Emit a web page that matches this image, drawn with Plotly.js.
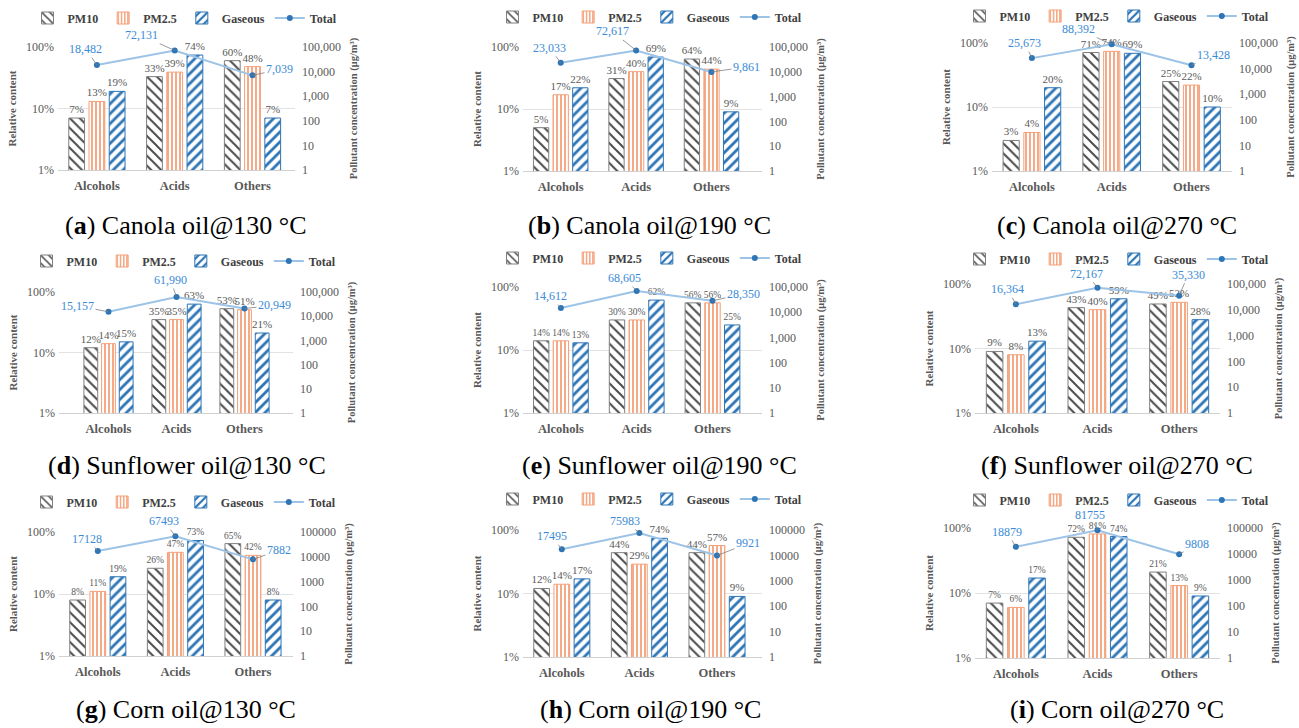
<!DOCTYPE html>
<html><head><meta charset="utf-8">
<script src="https://cdn.plot.ly/plotly-3.0.1.min.js"></script>
<style>html,body{margin:0;padding:0;background:#fff}#chart{width:1299px;height:728px}</style>
</head><body><div id="chart"></div>
<script>
// ---------------- DATA ----------------
const categories = ['Alcohols', 'Acids', 'Others'];
const panelLetters = ['a', 'b', 'c', 'd', 'e', 'f', 'g', 'h', 'i'];
const panelTitles = ['Canola oil@130 °C', 'Canola oil@190 °C', 'Canola oil@270 °C',
  'Sunflower oil@130 °C', 'Sunflower oil@190 °C', 'Sunflower oil@270 °C',
  'Corn oil@130 °C', 'Corn oil@190 °C', 'Corn oil@270 °C'];
// relative content (%) per panel, per category
const pm10 = [[7, 33, 60], [5, 31, 64], [3, 71, 25], [12, 35, 53], [14, 30, 56], [9, 43, 49], [8, 26, 65], [12, 44, 44], [7, 72, 21]];
const pm25 = [[13, 39, 48], [17, 40, 44], [4, 74, 22], [14, 35, 51], [14, 30, 56], [8, 40, 52], [11, 47, 42], [14, 29, 57], [6, 81, 13]];
const gaseous = [[19, 74, 7], [22, 69, 9], [20, 69, 10], [15, 63, 21], [13, 62, 25], [13, 59, 28], [19, 73, 8], [17, 74, 9], [17, 74, 9]];
// total pollutant concentration (µg/m³)
const totals = [[18482, 72131, 7039], [23033, 72617, 9861], [25673, 88392, 13428],
  [15157, 61990, 20949], [14612, 68605, 28350], [16364, 72167, 35330],
  [17128, 67493, 7882], [17495, 75983, 9921], [18879, 81755, 9808]];
const useThousandsSep = [true, true, true, true, true, true, false, false, false];
const leftTickValues = [1, 10, 100];
const leftTickLabels = ['1%', '10%', '100%'];
const leftTitle = 'Relative content';
const rightTitle = 'Pollutant concentration (μg/m³)';

// ---------------- LAYOUT CONFIG ----------------
const W = 1299, H = 728;
const px = x => x / W, py = y => 1 - y / H;
const panelBoxes = [ // left, top, right, bottom (px)
  [58, 47, 295, 170], [523, 47, 762, 171], [992, 43, 1232, 171],
  [59, 292, 293, 413], [523, 287, 762, 413], [975, 284, 1220, 413],
  [59, 532, 293, 656], [523, 530, 762, 657], [975, 528, 1220, 658]];
const legendPos = [[185, 18], [650, 17], [1117, 16], [184, 261], [650, 258], [1117, 259], [184, 502], [650, 499], [1117, 500]];
const captionPos = [[186, 225], [649, 225], [1117, 225], [187, 466], [659, 466], [1117, 466], [186, 709], [650, 709], [1117, 709]];
const labelOffsets = [
  [[-11, -16], [-33, -15], [27, -6]],
  [[-11, -15], [-24, -19], [35, -5]],
  [[-7, -15], [-33, -15], [22, -10]],
  [[-31, -6], [-6, -17], [30, -3]],
  [[-10, -12], [-12, -13], [31, -7]],
  [[-8, -15], [-11, -14], [9, -21]],
  [[-11, -12], [-11, -15], [26, -9]],
  [[-10, -13], [-14, -12], [31, -12]],
  [[-9, -15], [-8, -15], [18, -10]]];
const barLabelSize = [11, 11, 11, 11, 9.5, 11, 9.5, 11, 9.5];

const FONT = '"Liberation Serif", "Times New Roman", serif';
const GRAY = '#595959';
const barSpecs = [
  { name: 'PM10', data: pm10, fg: '#4a4a4a', line: '#808080', shape: '\\', size: 7, sol: 0.28 },
  { name: 'PM2.5', data: pm25, fg: '#F4A07A', line: '#F4A07A', shape: '|', size: 4, sol: 0.45 },
  { name: 'Gaseous', data: gaseous, fg: '#2E75B6', line: '#2E75B6', shape: '/', size: 7, sol: 0.4 }];

const traces = [];
const layout = {
  width: W, height: H, margin: { l: 0, r: 0, t: 0, b: 0 },
  paper_bgcolor: '#fff', plot_bgcolor: 'rgba(0,0,0,0)',
  barmode: 'group', bargap: 0.22, bargroupgap: 0.22,
  font: { family: FONT, color: GRAY }, annotations: [], hovermode: false
};

for (let k = 0; k < 9; k++) {
  const n = k + 1, s = n === 1 ? '' : String(n);
  const xa = 'x' + s, ya = 'y' + s, ya2 = 'y' + (n + 9), leg = 'legend' + s;
  const [l, t, r, b] = panelBoxes[k];

  barSpecs.forEach(spec => {
    traces.push({
      type: 'bar', x: categories, y: spec.data[k], name: spec.name,
      xaxis: xa, yaxis: ya, legend: leg, showlegend: true,
      marker: {
        color: '#ffffff', line: { color: spec.line, width: 1 },
        pattern: { shape: spec.shape, fgcolor: spec.fg, bgcolor: '#ffffff', size: spec.size, solidity: spec.sol, fillmode: 'replace' }
      },
      text: spec.data[k].map(v => v + '%'), textposition: 'outside', constraintext: 'none', cliponaxis: false,
      textfont: { family: FONT, size: barLabelSize[k], color: GRAY }
    });
  });
  traces.push({
    type: 'scatter', mode: 'lines+markers', x: categories, y: totals[k], name: 'Total',
    xaxis: xa, yaxis: ya2, legend: leg, showlegend: true, cliponaxis: false,
    line: { color: '#9DC3E6', width: 2 }, marker: { color: '#2E75B6', size: 6 }
  });

  layout['xaxis' + s] = {
    domain: [px(l), px(r)], anchor: ya, type: 'category', showgrid: false,
    showline: true, linecolor: '#d0d0d0', ticks: '', ticklabelstandoff: 4, fixedrange: true,
    tickfont: { family: FONT, size: 12.5, color: GRAY, weight: 'bold' }
  };
  layout['yaxis' + s] = {
    domain: [py(b), py(t)], anchor: xa, type: 'log', range: [0, 2],
    tickvals: leftTickValues, ticktext: leftTickLabels, showgrid: true, gridcolor: '#e2e2e2',
    zeroline: false, ticks: '', ticklabelstandoff: 3, fixedrange: true,
    tickfont: { family: FONT, size: 12, color: GRAY },
    title: { text: leftTitle, standoff: 7, font: { family: FONT, size: 11, color: GRAY, weight: 'bold' } }
  };
  layout['yaxis' + (n + 9)] = {
    overlaying: ya, anchor: xa, side: 'right', type: 'log', range: [0, 5], dtick: 1,
    tickformat: useThousandsSep[k] ? ',' : 'd', showgrid: false, zeroline: false, ticks: '',
    ticklabelstandoff: 6, fixedrange: true,
    tickfont: { family: FONT, size: 12, color: GRAY },
    title: { text: rightTitle, standoff: 9, font: { family: FONT, size: 10.5, color: GRAY, weight: 'bold' } }
  };
  layout[leg] = {
    orientation: 'h', x: px(legendPos[k][0]), y: py(legendPos[k][1]), xanchor: 'center', yanchor: 'middle',
    xref: 'paper', yref: 'paper', bgcolor: 'rgba(0,0,0,0)', traceorder: 'normal', itemwidth: 30,
    font: { family: FONT, size: 12, color: '#404040', weight: 'bold' }
  };

  totals[k].forEach((v, j) => {
    layout.annotations.push({
      xref: xa, yref: ya2, x: categories[j], y: Math.log10(v),
      ax: labelOffsets[k][j][0], ay: labelOffsets[k][j][1],
      text: useThousandsSep[k] ? v.toLocaleString('en-US') : String(v),
      showarrow: true, arrowhead: 0, arrowwidth: 0.8, arrowcolor: '#7f7f7f', standoff: 0,
      font: { family: FONT, size: 12, color: '#3A8AD6' }
    });
  });
  layout.annotations.push({
    xref: 'paper', yref: 'paper', x: px(captionPos[k][0]), y: py(captionPos[k][1]),
    xanchor: 'center', yanchor: 'middle', showarrow: false,
    text: '(<b>' + panelLetters[k] + '</b>) ' + panelTitles[k],
    font: { family: FONT, size: 26, color: '#000' }
  });
}

Plotly.newPlot('chart', traces, layout, { displayModeBar: false, staticPlot: true });
</script>
</body></html>
